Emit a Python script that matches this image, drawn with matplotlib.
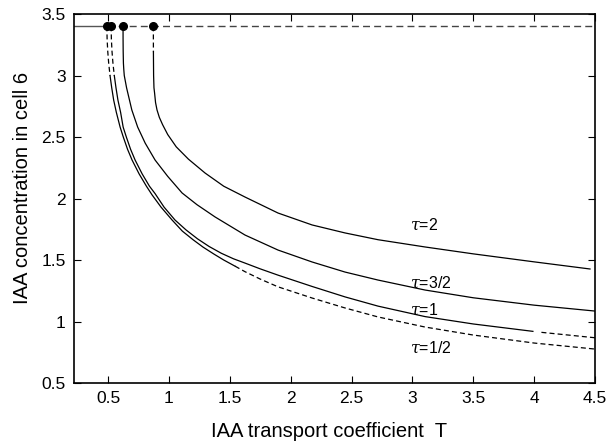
import numpy as np
import matplotlib
matplotlib.use('Agg')
import matplotlib.pyplot as plt

plt.rcParams['font.family'] = ['Liberation Sans', 'DejaVu Sans']

# threshold level and starting points of each curve
level = 3.4
start_T = [0.49, 0.525, 0.623, 0.872]

# curves (T, concentration)
T_half = [0.490, 0.492, 0.497, 0.505, 0.516, 0.530, 0.546, 0.568, 0.599, 0.625,
          0.660, 0.697, 0.755, 0.815, 0.861, 0.935, 1.026, 1.11, 1.198, 1.28,
          1.37, 1.45, 1.543, 1.625, 1.75, 1.896, 2.176, 2.447, 2.718, 3.104,
          3.5, 4.0, 4.5]
y_half = [3.40, 3.30, 3.20, 3.10, 3.00, 2.90, 2.80, 2.70, 2.58, 2.50,
          2.40, 2.313, 2.20, 2.10, 2.03, 1.93, 1.825, 1.735, 1.665, 1.605,
          1.548, 1.50, 1.45, 1.405, 1.345, 1.282, 1.191, 1.110, 1.037, 0.955,
          0.89, 0.825, 0.776]
seg_half = [(0, 5, '--'), (4, 23, '-'), (22, 33, '--')]

T_one = [0.525, 0.527, 0.532, 0.540, 0.551, 0.565, 0.581, 0.603, 0.624, 0.650,
         0.685, 0.722, 0.780, 0.840, 0.886, 0.960, 1.050, 1.140, 1.235, 1.33,
         1.43, 1.53, 1.625, 1.75, 1.896, 2.176, 2.447, 2.718, 3.104, 3.5,
         3.99, 4.06, 4.5]
y_one = [3.40, 3.30, 3.20, 3.10, 3.00, 2.90, 2.80, 2.70, 2.58, 2.50,
         2.40, 2.313, 2.20, 2.10, 2.04, 1.93, 1.825, 1.745, 1.672, 1.61,
         1.555, 1.51, 1.475, 1.428, 1.377, 1.285, 1.20, 1.125, 1.04, 0.98,
         0.92, 0.912, 0.868]
seg_one = [(0, 5, '--'), (4, 31, '-'), (31, 33, '--')]

T_32 = [0.623, 0.6232, 0.624, 0.626, 0.629, 0.633, 0.652, 0.662, 0.695, 0.743,
        0.805, 0.886, 0.99, 1.108, 1.23, 1.379, 1.625, 1.896, 2.176, 2.447,
        2.718, 3.104, 3.5, 4.0, 4.5]
y_32 = [3.40, 3.30, 3.20, 3.10, 3.05, 3.00, 2.90, 2.858, 2.72, 2.581,
        2.45, 2.313, 2.18, 2.045, 1.95, 1.85, 1.703, 1.581, 1.484, 1.402,
        1.337, 1.256, 1.193, 1.133, 1.085]
seg_32 = [(0, 25, '-')]

T_two = [0.872, 0.8721, 0.8725, 0.874, 0.877, 0.882, 0.890, 0.902, 0.921, 0.948,
         0.99, 1.06, 1.16, 1.297, 1.45, 1.625, 1.896, 2.176, 2.447, 2.718,
         3.104, 3.5, 4.0, 4.459]
y_two = [3.40, 3.30, 3.19, 3.00, 2.90, 2.858, 2.78, 2.72, 2.66, 2.60,
         2.52, 2.42, 2.32, 2.207, 2.10, 2.012, 1.882, 1.785, 1.72, 1.665,
         1.606, 1.55, 1.485, 1.427]
seg_two = [(0, 3, '--'), (2, 24, '-')]

labels = [r'$\tau$=2', r'$\tau$=3/2', r'$\tau$=1', r'$\tau$=1/2']
label_y = [1.785, 1.313, 1.094, 0.785]
label_T = 2.98

fig = plt.figure(figsize=(6.11, 4.43), dpi=100)
ax = fig.add_axes([0.1211, 0.1354, 0.8527, 0.833])

# threshold line
ax.plot([0.22, start_T[0]], [level, level], color='#555555', lw=1.0)
ax.plot([start_T[0], 4.5], [level, level], color='#444444', lw=1.0,
        dashes=(5, 3))

curves = [(T_half, y_half, seg_half), (T_one, y_one, seg_one),
          (T_32, y_32, seg_32), (T_two, y_two, seg_two)]
for T, y, segs in curves:
    for i0, i1, st in segs:
        if st == '--':
            ax.plot(T[i0:i1], y[i0:i1], color='black', lw=0.9, dashes=(4, 2.5))
        else:
            ax.plot(T[i0:i1], y[i0:i1], color='black', lw=0.9)

ax.plot(start_T, [level] * len(start_T), 'o', color='black', ms=5.5,
        zorder=5, clip_on=False)

for lab, ly in zip(labels, label_y):
    ax.text(label_T, ly, lab, fontsize=11.5, va='center', ha='left',
            math_fontfamily='dejavuserif')

ax.set_xlim(0.22, 4.5)
ax.set_ylim(0.5, 3.5)
ax.set_xticks(np.arange(0.5, 4.51, 0.5))
ax.set_xticklabels(['0.5', '1', '1.5', '2', '2.5', '3', '3.5', '4', '4.5'])
ax.set_yticks(np.arange(0.5, 3.51, 0.5))
ax.set_yticklabels(['0.5', '1', '1.5', '2', '2.5', '3', '3.5'])
ax.tick_params(direction='in', top=True, right=True, length=5, width=0.8,
               labelsize=12.5, pad=6)
for s in ax.spines.values():
    s.set_linewidth(1.2)

ax.set_xlabel('IAA transport coefficient  T', fontsize=14.5)
ax.set_ylabel('IAA concentration in cell 6', fontsize=14.5)
ax.xaxis.set_label_coords(0.49, -0.105)
ax.yaxis.set_label_coords(-0.08, 0.53)

fig.savefig('out.png', dpi=100)
